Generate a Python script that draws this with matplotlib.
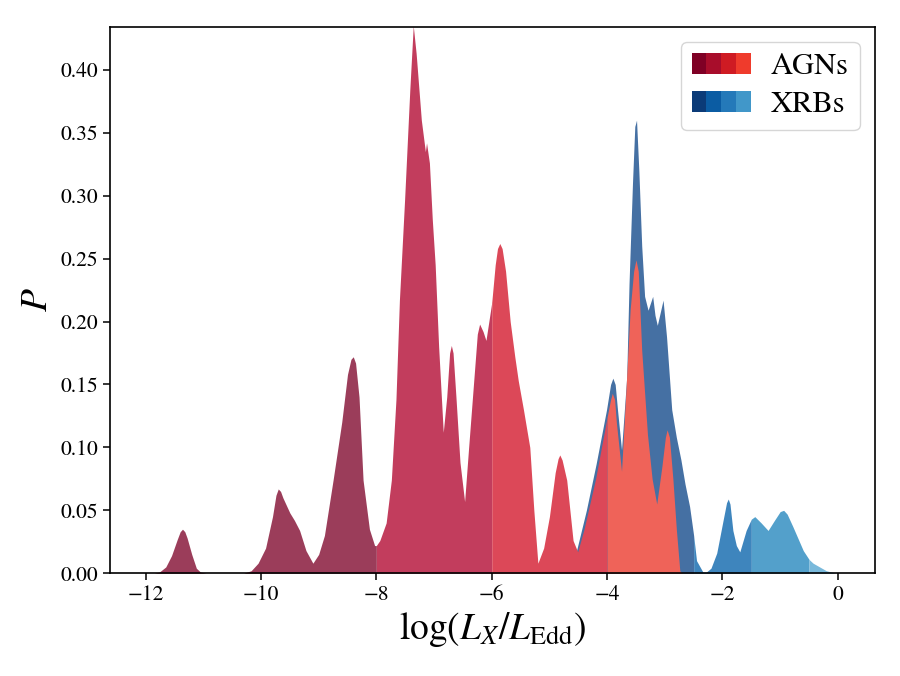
import numpy as np
import matplotlib
matplotlib.use('Agg')
import matplotlib.pyplot as plt
from matplotlib.patches import Patch
from matplotlib.legend_handler import HandlerTuple

plt.rcParams['font.family'] = 'serif'
plt.rcParams['font.serif'] = ['STIXGeneral', 'Liberation Serif', 'DejaVu Serif']
plt.rcParams['mathtext.fontset'] = 'stix'

# AGN distribution
agn_x = [-11.85, -11.76, -11.65, -11.55, -11.45, -11.4, -11.36, -11.32, -11.28, -11.2, -11.12,
         -11.05, -10.95,
         -10.3, -10.17, -10.05, -9.92, -9.8, -9.74, -9.7, -9.66, -9.62, -9.55, -9.5, -9.42,
         -9.33, -9.22, -9.1, -9.0, -8.9, -8.75, -8.6, -8.5, -8.44, -8.4, -8.36, -8.3, -8.23,
         -8.12, -8.03, -8.0,
         -7.94, -7.83, -7.74, -7.66, -7.6, -7.51, -7.42, -7.36, -7.31, -7.22, -7.15, -7.13,
         -7.08, -7.03, -6.98, -6.92, -6.84, -6.78, -6.73, -6.7, -6.67, -6.62, -6.55, -6.47,
         -6.4, -6.3, -6.25, -6.21, -6.15, -6.1, -6.0,
         -5.94, -5.9, -5.86, -5.82, -5.76, -5.68, -5.6, -5.54, -5.45, -5.34, -5.27, -5.2,
         -5.1, -5.0, -4.9, -4.85, -4.82, -4.78, -4.7, -4.59, -4.51, -4.4, -4.2, -4.0,
         -3.94, -3.91, -3.87, -3.84, -3.75, -3.68, -3.6, -3.54, -3.5, -3.46, -3.4, -3.3,
         -3.22, -3.14, -3.05, -2.99, -2.96, -2.92, -2.86, -2.8, -2.74, -2.7]
agn_y = [0, 0.001, 0.005, 0.014, 0.027, 0.033, 0.035, 0.033, 0.028, 0.015, 0.004,
         0.001, 0,
         0, 0.002, 0.008, 0.02, 0.045, 0.062, 0.067, 0.065, 0.06, 0.053, 0.048, 0.042,
         0.034, 0.018, 0.008, 0.015, 0.03, 0.074, 0.12, 0.158, 0.17, 0.172, 0.167, 0.14, 0.074,
         0.035, 0.022, 0.022,
         0.026, 0.04, 0.074, 0.138, 0.217, 0.297, 0.384, 0.435, 0.413, 0.36, 0.335, 0.342,
         0.326, 0.281, 0.245, 0.18, 0.112, 0.14, 0.175, 0.181, 0.175, 0.14, 0.088, 0.057,
         0.1, 0.16, 0.19, 0.198, 0.192, 0.185, 0.215,
         0.245, 0.258, 0.262, 0.258, 0.24, 0.2, 0.172, 0.153, 0.13, 0.1, 0.05, 0.008,
         0.02, 0.045, 0.08, 0.091, 0.094, 0.09, 0.074, 0.026, 0.017, 0.035, 0.075, 0.124,
         0.138, 0.143, 0.138, 0.12, 0.081, 0.14, 0.21, 0.24, 0.249, 0.24, 0.177, 0.11,
         0.075, 0.055, 0.085, 0.108, 0.114, 0.108, 0.075, 0.035, 0.002, 0]

# XRB distribution
xrb_x = [-4.65, -4.53, -4.36, -4.19, -4.01, -3.94, -3.9, -3.86, -3.82, -3.75, -3.66, -3.62,
         -3.56, -3.52, -3.49, -3.45, -3.4, -3.35, -3.29, -3.21, -3.17, -3.13, -3.03, -2.97,
         -2.88, -2.8, -2.72, -2.65, -2.57, -2.5, -2.45, -2.34, -2.28, -2.2, -2.1, -1.99,
         -1.93, -1.9, -1.87, -1.82, -1.76, -1.7, -1.59, -1.5, -1.44, -1.33, -1.21, -1.1,
         -1.0, -0.94, -0.88, -0.78, -0.6, -0.5, -0.43, -0.2, -0.03]
xrb_y = [0, 0.018, 0.05, 0.087, 0.13, 0.15, 0.155, 0.15, 0.13, 0.098, 0.156, 0.23,
         0.31, 0.355, 0.36, 0.32, 0.26, 0.22, 0.209, 0.22, 0.205, 0.197, 0.217, 0.188,
         0.13, 0.108, 0.09, 0.071, 0.053, 0.03, 0.01, 0.001, 0.001, 0.004, 0.016, 0.042,
         0.056, 0.059, 0.055, 0.034, 0.022, 0.017, 0.034, 0.043, 0.045, 0.04, 0.034, 0.042,
         0.049, 0.05, 0.047, 0.037, 0.018, 0.011, 0.008, 0.002, 0]

agn_edges = [-13, -8, -6, -4, 0]
xrb_edges = [-5, -2.5, -1.5, -0.5, 0.5]
agn_colors = ['#9b3d5a', '#c23d5d', '#dc4858', '#ef6359']
xrb_colors = ['#4570a3', '#3e85bd', '#53a0cb', '#79b9db']
agn_legend = ['#7f0025', '#a80d2b', '#cf1b23', '#ef3b2c']
xrb_legend = ['#0b3b78', '#0b5ca3', '#2479b9', '#4197c9']

fig = plt.figure(figsize=(9, 6.76), dpi=100)
ax = fig.add_axes([0.122, 0.152, 0.850, 0.808])

def draw(x, y, edges, colors):
    x = np.array(x)
    y = np.array(y)
    for i, c in enumerate(colors):
        m = (x >= edges[i]) & (x <= edges[i + 1])
        ax.fill_between(x[m], 0, y[m], color=c, lw=0)

draw(xrb_x, xrb_y, xrb_edges, xrb_colors)
draw(agn_x, agn_y, agn_edges, agn_colors)

ax.set_xlim(-12.62, 0.64)
ax.set_ylim(0, 0.434)
ax.set_xticks([-12, -10, -8, -6, -4, -2, 0])
ax.set_yticks(np.arange(0, 0.41, 0.05))
ax.set_yticklabels(['%.2f' % v for v in np.arange(0, 0.41, 0.05)])
ax.tick_params(labelsize=15.5, length=5, width=1.1)
for s in ax.spines.values():
    s.set_linewidth(1.2)

ax.set_xlabel(r'$\log(L_X/L_{\rm Edd})$', fontsize=27, labelpad=4)
ax.set_ylabel(r'$P$', fontsize=27)

h_agn = tuple(Patch(facecolor=c, lw=0) for c in agn_legend)
h_xrb = tuple(Patch(facecolor=c, lw=0) for c in xrb_legend)
ax.legend([h_agn, h_xrb], ['AGNs', 'XRBs'], loc='upper right', fontsize=22,
          handler_map={tuple: HandlerTuple(ndivide=None, pad=0)},
          handlelength=1.95, handleheight=0.7, handletextpad=0.65,
          borderpad=0.35, labelspacing=0.3, borderaxespad=0.5,
          fancybox=True, edgecolor='#cccccc')

plt.savefig('out.png', dpi=100)
